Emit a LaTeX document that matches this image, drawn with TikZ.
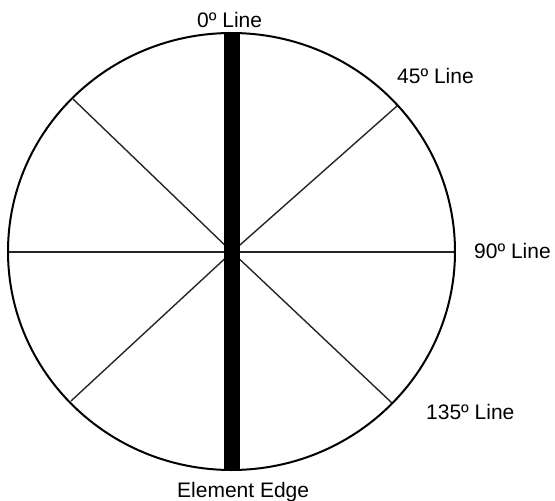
\documentclass[tikz,border=0pt]{standalone}
\usepackage{fontspec}
\setmainfont{Liberation Sans}
\usetikzlibrary{positioning}

\begin{document}
\begin{tikzpicture}[x=1pt,y=-1pt,
		lbl/.style={font=\fontsize{21}{25}\selectfont, inner sep=0pt, anchor=base west},
		spoke/.style={line width=1.4pt, black!85},
		rim/.style={line width=2pt}]
	
	\useasboundingbox (0,0) rectangle (555,501);
	
	% Centre and points on the rim
	\coordinate (c) at (232,252);
	\coordinate (top) at (232,33);
	\coordinate (bot) at (232,470);
	\coordinate (w) at (8,252);
	\coordinate (e) at (455,252);
	\coordinate (ne) at (397,106);
	\coordinate (nw) at (73,99);
	\coordinate (se) at (392,403);
	\coordinate (sw) at (71,401);
	
	% Spokes
	\foreach \p in {w, e, ne, nw, se, sw}
	\draw[spoke] (c) -- (\p);
	
	% Rim
	\draw[rim] (231.5,251.5) ellipse [x radius=223.5, y radius=218.5];
	
	% Element edge (0 degree line)
	\draw[line width=16pt] (top) -- (bot);
	
	% Labels
	\node[lbl] (l0) at (197,27) {0º Line};
	\node[lbl] (l45) at (397,83) {45º Line};
	\node[lbl] (l90) at (474,258) {90º Line};
	\node[lbl] (l135) at (426,419) {135º Line};
	\node[lbl] (edge) at (177,497) {Element Edge};
	
\end{tikzpicture}
\end{document}
